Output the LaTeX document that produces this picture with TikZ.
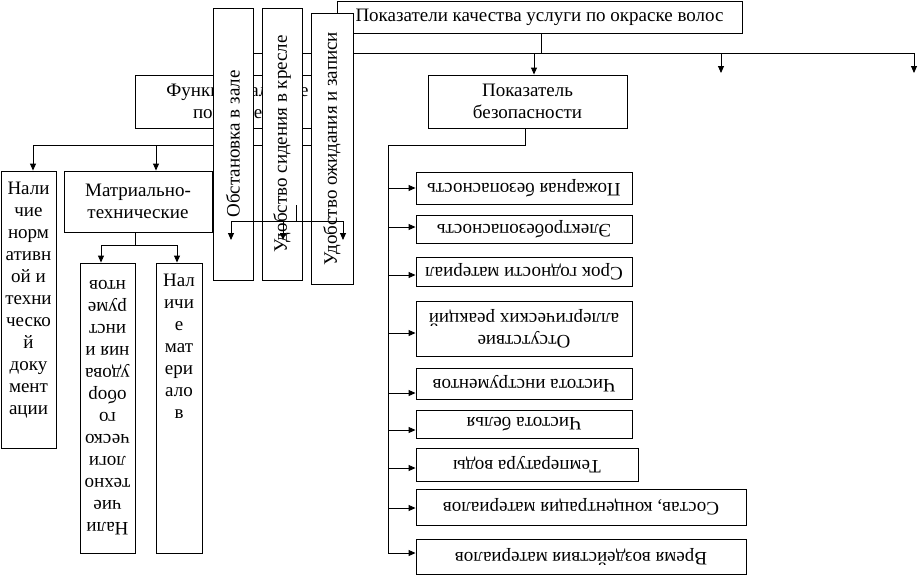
\documentclass[tikz,border=0pt]{standalone}
\usepackage{fontspec}
\setmainfont{Liberation Serif}
\usetikzlibrary{arrows.meta}
\newcommand\fs{\fontsize{19}{22}\selectfont}
\begin{document}
\begin{tikzpicture}[x=1pt,y=-1pt,line width=0.9pt,font=\fs,
  box/.style={draw,fill=white,inner sep=0pt},
  txt/.style={align=center,inner sep=0pt},
  arr/.style={-{Triangle[length=7pt,width=6pt]}}]
\useasboundingbox[fill=white] (0,0) rectangle (920,576);

% Functional box and its subtree
\node[box,minimum width=205pt,minimum height=53pt] (func) at (237.5,101.5) {};
\node[txt] (funct) at (func) {Функциональные\\показатели};
\coordinate (j1) at (33,145);
\coordinate (j2) at (330,145);
\coordinate (j3) at (156,145);
\draw (func.south) -- (func.south |- j1);
\draw (j1) -- (j2);
\node[box,minimum width=55pt,minimum height=277pt] (doc) at (28.5,309.5) {};
\node[txt] (doct) at (28.5,300) {Нали\\чие\\норм\\ативн\\ой и\\техни\\ческо\\й\\доку\\мент\\ации};
\node[box,minimum width=148pt,minimum height=61pt] (matr) at (138,201.5) {};
\node[txt] (matrt) at (matr) {Матриально-\\технические};
\draw[arr] (j1) -- (j1 |- doc.north);
\draw[arr] (j3) -- (j3 |- matr.north);

\node[box,minimum width=55pt,minimum height=290pt] (tech) at (107.5,408) {};
\node[txt,rotate=180] (techt) at (tech) {Нали\\чие\\техно\\логи\\ческо\\го\\обор\\удова\\ния и\\инст\\руме\\нтов};
\node[box,minimum width=46pt,minimum height=290pt] (mat) at (179,408) {};
\node[txt,anchor=north] (matt) at (179,274) {Нал\\ичи\\е\\мат\\ери\\ало\\в};
\coordinate (m1) at (101,245);
\coordinate (m2) at (177,245);
\draw (matr.south -| 135,0) -- (m1 -| 135,0);
\draw (m1) -- (m2);
\draw[arr] (m1) -- (m1 |- tech.north);
\draw[arr] (m2) -- (m2 |- mat.north);

% Top box and its tree
\node[box,minimum width=405pt,minimum height=32pt] (top) at (539.5,17) {};
\node[txt] (topt) at (top) {Показатели качества услуги по окраске волос};
\coordinate (t0) at (541,53);
\coordinate (tl) at (230,53);
\coordinate (t2) at (721,53);
\coordinate (t3) at (914,53);
\coordinate (e2) at (721,73);
\coordinate (e3) at (914,73);
\draw (top.south -| t0) -- (t0);
\draw (tl) -- (t3);
\node[box,minimum width=199pt,minimum height=53pt] (saf) at (527.5,101.5) {};
\node[txt] (saft) at (saf) {Показатель\\безопасности};
\draw[arr] (534,53) -- (saf.north -| 534,0);
\draw[arr] (t2) -- (e2);
\draw[arr] (t3) -- (e3);

% Safety list
\coordinate (s0) at (525,145);
\coordinate (s1) at (388,145);
\coordinate (s2) at (388,553);
\draw (saf.south -| s0) -- (s0) -- (s1) -- (s2);
\node[box,minimum width=216pt,minimum height=32pt] (r1) at (524,188) {};
\node[txt,rotate=180] (r1t) at (r1) {Пожарная безопасность};
\node[box,minimum width=216pt,minimum height=28pt] (r2) at (524,229) {};
\node[txt,rotate=180] (r2t) at (r2) {Электробезопасность};
\node[box,minimum width=216pt,minimum height=29pt] (r3) at (524,271.5) {};
\node[txt,rotate=180] (r3t) at (r3) {Срок годности материал};
\node[box,minimum width=216pt,minimum height=55pt] (r4) at (524,328.5) {};
\node[txt,rotate=180] (r4t) at (r4) {Отсутствие\\аллергических реакций};
\node[box,minimum width=216pt,minimum height=31pt] (r5) at (524,383.5) {};
\node[txt,rotate=180] (r5t) at (r5) {Чистота инструментов};
\node[box,minimum width=216pt,minimum height=28pt] (r6) at (524,424) {};
\node[txt,rotate=180] (r6t) at (r6) {Чистота белья};
\node[box,minimum width=222pt,minimum height=33pt] (r7) at (527,464.5) {};
\node[txt,rotate=180] (r7t) at (r7) {Температура воды};
\node[box,minimum width=330pt,minimum height=36pt] (r8) at (581,507) {};
\node[txt,rotate=180] (r8t) at (r8) {Состав, концентрация материалов};
\node[box,minimum width=330pt,minimum height=35pt] (r9) at (581,556.5) {};
\node[txt,rotate=180] (r9t) at (r9) {Время воздействия материалов};
\foreach \n/\yy in {1/188,2/227,3/275,4/333,5/393,6/430,7/468,8/508,9/553}{
  \coordinate (v\n) at (388,\yy);
  \draw[arr] (v\n) -- (v\n -| r\n.west);
}

% Vertical boxes drawn over
\node[box,minimum width=40pt,minimum height=272pt] (A) at (233,144) {};
\node[txt,rotate=90] (At) at (A) {Обстановка в зале};
\node[box,minimum width=40pt,minimum height=272pt] (B) at (282,144) {};
\node[txt,rotate=90] (Bt) at (B) {Удобство сидения в кресле};
\node[box,minimum width=42pt,minimum height=271pt] (C) at (332,148.5) {};
\node[txt,rotate=90] (Ct) at (C) {Удобство ожидания и записи};

% small tree over the vertical boxes
\coordinate (u0) at (296,205);
\coordinate (u1) at (296,221);
\coordinate (ua) at (231,221);
\coordinate (ub) at (283,221);
\coordinate (uc) at (343,221);
\draw (u0) -- (u1);
\draw (ua) -- (uc);
\draw[arr] (ua) -- ++(0,19);
\draw[arr] (ub) -- ++(0,19);
\draw[arr] (uc) -- ++(0,19);
\end{tikzpicture}
\end{document}
